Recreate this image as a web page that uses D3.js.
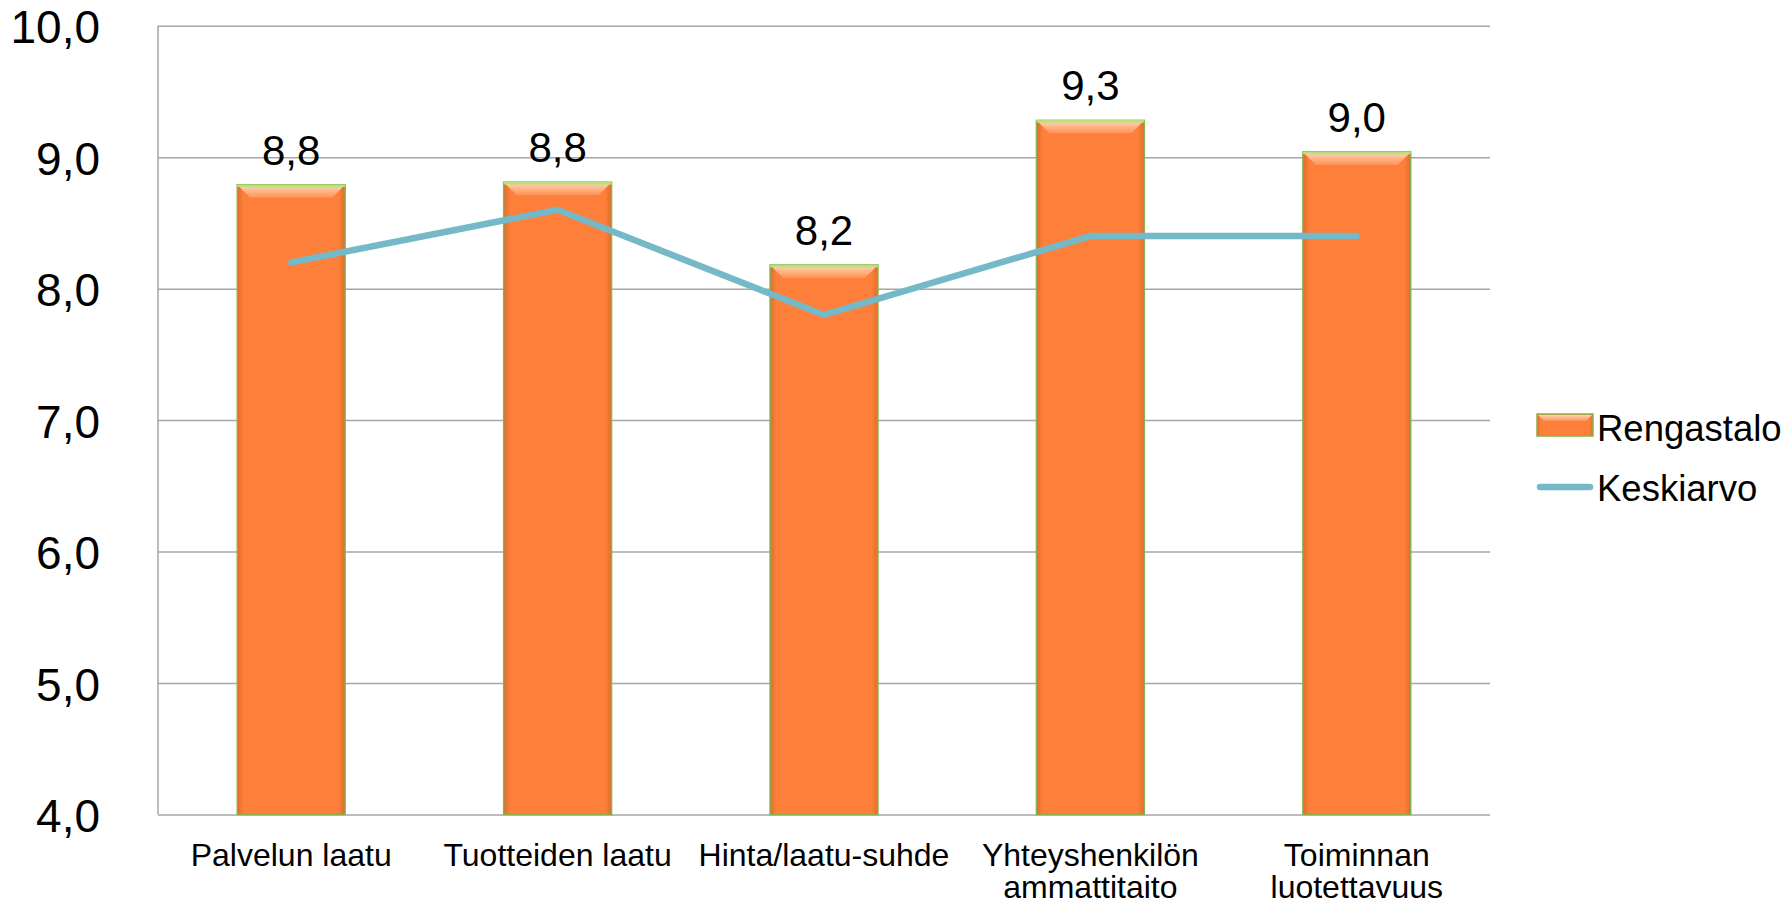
<!DOCTYPE html>
<html>
<head>
<meta charset="utf-8">
<script src="https://cdnjs.cloudflare.com/ajax/libs/d3/7.8.5/d3.min.js"></script>
<style>
  body { margin: 0; background: #fff; }
  svg { display: block; font-family: Arial, "Liberation Sans", sans-serif; }
</style>
</head>
<body>
<script>
var width = 1791;
var height = 908;

// chart data
var categories = ["Palvelun laatu", "Tuotteiden laatu", "Hinta/laatu-suhde", "Yhteyshenkilön ammattitaito", "Toiminnan luotettavuus"];
var categoryLines = [["Palvelun laatu"], ["Tuotteiden laatu"], ["Hinta/laatu-suhde"], ["Yhteyshenkilön", "ammattitaito"], ["Toiminnan", "luotettavuus"]];
var rengastalo = [8.79, 8.81, 8.18, 9.28, 9.04];
var keskiarvo = [8.2, 8.6, 7.8, 8.4, 8.4];
var yTicks = [4, 5, 6, 7, 8, 9, 10];
var seriesNames = ["Rengastalo", "Keskiarvo"];

var plot = {left: 158, right: 1490, top: 25.7, bottom: 814.5};

var svg = d3.select("body")
  .append("svg")
  .attr("width", width)
  .attr("height", height);

var defs = svg.append("defs");

var bodyGrad = defs.append("linearGradient").attr("id", "barBody")
  .attr("x1", 0).attr("y1", 0).attr("x2", 1).attr("y2", 0);
bodyGrad.append("stop").attr("offset", "0%").attr("stop-color", "#e06c2c");
bodyGrad.append("stop").attr("offset", "6%").attr("stop-color", "#fd7f3a");
bodyGrad.append("stop").attr("offset", "94%").attr("stop-color", "#fd7f3a");
bodyGrad.append("stop").attr("offset", "100%").attr("stop-color", "#e06c2c");

var bevelGrad = defs.append("linearGradient").attr("id", "barBevel")
  .attr("x1", 0).attr("y1", 0).attr("x2", 0).attr("y2", 1);
bevelGrad.append("stop").attr("offset", "0%").attr("stop-color", "#ffd2b0");
bevelGrad.append("stop").attr("offset", "100%").attr("stop-color", "#fe9255");

var x = d3.scaleBand()
  .domain(categories)
  .range([plot.left, plot.right])
  .paddingInner(0.595)
  .paddingOuter(0.2975);

var y = d3.scaleLinear()
  .domain([4, 10])
  .range([plot.bottom, plot.top]);

// gridlines
svg.append("g")
  .attr("transform", "translate(" + plot.left + ",0)")
  .call(d3.axisLeft(y).tickValues(yTicks).tickSize(-(plot.right - plot.left)).tickFormat(""))
  .call(function(g){
    g.select(".domain").remove();
    g.selectAll("line").attr("stroke", "#a6a6a6").attr("stroke-width", 1.5);
  });

// left border
svg.append("line")
  .attr("x1", plot.left).attr("x2", plot.left)
  .attr("y1", y(10)).attr("y2", y(4))
  .attr("stroke", "#a6a6a6").attr("stroke-width", 1.5);

// y tick labels
var fmt = function(v){ return d3.format(".1f")(v).replace(".", ","); };
svg.append("g")
  .attr("transform", "translate(" + plot.left + ",0)")
  .call(d3.axisLeft(y).tickValues(yTicks).tickSize(0).tickPadding(58).tickFormat(fmt))
  .call(function(g){
    g.select(".domain").remove();
    g.selectAll("text")
      .attr("font-size", 46)
      .attr("font-family", "Arial, 'Liberation Sans', sans-serif")
      .attr("fill", "#000")
      .attr("dy", "0.37em");
  });

// bars
var bars = svg.append("g").selectAll("g.bar")
  .data(rengastalo)
  .enter()
  .append("g")
  .attr("class", "bar");

bars.append("rect")
  .attr("x", function(d, i){ return x(categories[i]); })
  .attr("y", function(d){ return y(d); })
  .attr("width", x.bandwidth())
  .attr("height", function(d){ return y(4) - y(d); })
  .attr("fill", "url(#barBody)")
  .attr("stroke", "#8cb04e")
  .attr("stroke-width", 1.5);

var bev = 12;
bars.append("polygon")
  .attr("points", function(d, i){
    var x0 = x(categories[i]) + 1, x1 = x0 + x.bandwidth() - 2, y0 = y(d) + 1;
    return [[x0, y0], [x1, y0], [x1 - bev, y0 + bev], [x0 + bev, y0 + bev]].join(" ");
  })
  .attr("fill", "url(#barBevel)");

bars.append("line")
  .attr("x1", function(d, i){ return x(categories[i]); })
  .attr("x2", function(d, i){ return x(categories[i]) + x.bandwidth(); })
  .attr("y1", function(d){ return y(d) + 1; })
  .attr("y2", function(d){ return y(d) + 1; })
  .attr("stroke", "#b8e07c")
  .attr("stroke-width", 2.5);

// data labels
svg.append("g").selectAll("text")
  .data(rengastalo)
  .enter()
  .append("text")
  .attr("x", function(d, i){ return x(categories[i]) + x.bandwidth() / 2; })
  .attr("y", function(d){ return y(d) - 20; })
  .attr("text-anchor", "middle")
  .attr("font-size", 42)
  .attr("fill", "#000")
  .text(fmt);

// average line
var line = d3.line()
  .x(function(d, i){ return x(categories[i]) + x.bandwidth() / 2; })
  .y(function(d){ return y(d); });

svg.append("path")
  .datum(keskiarvo)
  .attr("d", line)
  .attr("fill", "none")
  .attr("stroke", "#75b8c8")
  .attr("stroke-width", 6.5)
  .attr("stroke-linecap", "round")
  .attr("stroke-linejoin", "miter");

// x labels
var xl = svg.append("g").selectAll("text")
  .data(categoryLines)
  .enter()
  .append("text")
  .attr("x", function(d, i){ return x(categories[i]) + x.bandwidth() / 2; })
  .attr("y", 866)
  .attr("text-anchor", "middle")
  .attr("font-size", 32)
  .attr("fill", "#000");

xl.selectAll("tspan")
  .data(function(d){ return d; })
  .enter()
  .append("tspan")
  .attr("x", function(){ return d3.select(this.parentNode).attr("x"); })
  .attr("dy", function(d, i){ return i === 0 ? 0 : 32; })
  .text(function(d){ return d; });

// legend
var legend = svg.append("g").attr("transform", "translate(1537,0)");

legend.append("rect")
  .attr("x", 0).attr("y", 414)
  .attr("width", 56).attr("height", 22)
  .attr("fill", "url(#barBody)")
  .attr("stroke", "#8cb04e").attr("stroke-width", 1.5);
legend.append("polygon")
  .attr("points", [[1, 415], [55, 415], [49, 421], [7, 421]].join(" "))
  .attr("fill", "url(#barBevel)");

legend.append("line")
  .attr("x1", 3).attr("x2", 53)
  .attr("y1", 487).attr("y2", 487)
  .attr("stroke", "#75b8c8").attr("stroke-width", 6.5)
  .attr("stroke-linecap", "round");

legend.selectAll("text.leg")
  .data(seriesNames)
  .enter()
  .append("text")
  .attr("class", "leg")
  .attr("x", 60)
  .attr("y", function(d, i){ return 441 + i * 60; })
  .attr("font-size", 36.5)
  .attr("fill", "#000")
  .text(function(d){ return d; });
</script>
</body>
</html>
